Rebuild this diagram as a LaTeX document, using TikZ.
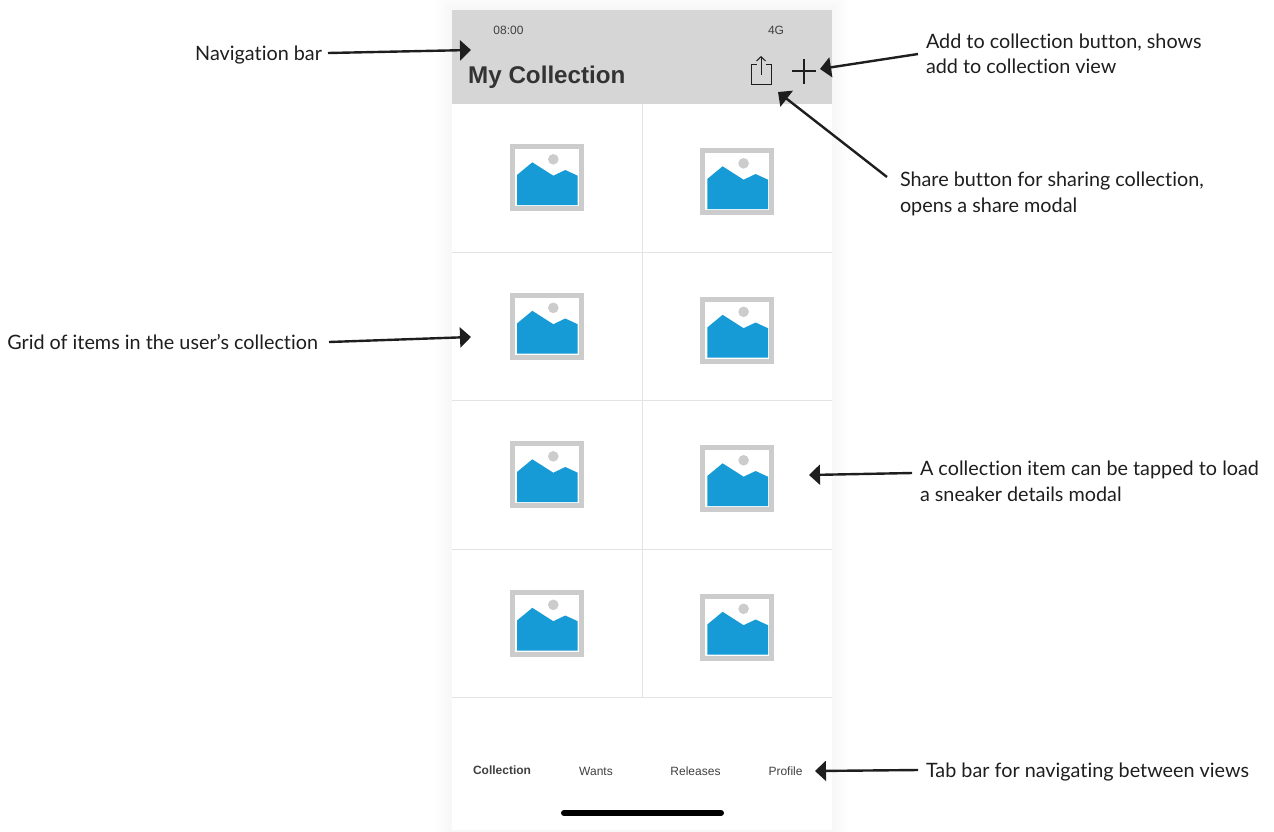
\documentclass[tikz,border=0pt]{standalone}
\usepackage{fontspec}
\setmainfont[Ligatures=NoCommon]{Lato}
\newfontfamily\uifont{Liberation Sans}
\usetikzlibrary{arrows.meta}
\definecolor{barg}{HTML}{D6D6D6}
\definecolor{gridg}{HTML}{E3E3E3}
\definecolor{frameg}{HTML}{CCCCCC}
\definecolor{sky}{HTML}{179BD7}
\definecolor{uitext}{HTML}{404040}
\definecolor{titletext}{HTML}{333333}
\definecolor{ink}{HTML}{1E1E1E}
\tikzset{
  x=1pt,y=-1pt,
  lbl/.style={font=\fontsize{19.8}{25.5}\selectfont,text=ink,align=left,inner ysep=0pt,inner xsep=0pt},
  conn/.style={draw=ink,line width=2.4pt,-{Triangle[length=11pt,width=20pt]}},
  uilbl/.style={font=\uifont\fontsize{12}{14}\selectfont,text=uitext,inner sep=0pt},
  tabb/.style={font=\uifont\bfseries\fontsize{12}{14}\selectfont,text=uitext,inner sep=0pt},
  tabn/.style={font=\uifont\fontsize{12}{14}\selectfont,text=uitext,inner sep=0pt},
  rule/.style={draw=gridg,line width=1pt},
  thumb/.pic={
    \fill[frameg] (0,0) rectangle (74,67);
    \fill[white] (5,5) rectangle (69,62);
    \fill[frameg] (43.3,15.3) circle (5.3);
    \fill[sky] (7,31) -- (22.3,18.3) -- (43.3,31.7) -- (55.3,26) -- (67.7,31.7) -- (67.7,61) -- (7,61) -- cycle;
  }
}
\begin{document}
\begin{tikzpicture}
\useasboundingbox (0,0) rectangle (1274,831);
% soft shadow round the phone
\foreach \s in {16,14,...,2}{
  \fill[black,opacity=0.004] (452-\s,10-\s) rectangle (832+\s,830+\s);
}
\fill[white] (452,10) rectangle (832,830);
% navigation bar
\fill[barg] (452,10) rectangle (832,104);
\node[uilbl,anchor=center] (clock) at (508.5,30) {08:00};
\node[uilbl,anchor=center] (net) at (776,30) {4G};
\node[anchor=west,inner sep=0pt,text=titletext,font=\uifont\bfseries\fontsize{24.2}{28}\selectfont] (title) at (468,77) {My Collection};
% share icon
\draw[ink,line width=1pt] (756.5,64) -- (751.3,64) -- (751.3,84.3) -- (771,84.3) -- (771,64) -- (765.5,64);
\draw[ink,line width=1pt] (761,75) -- (761,57);
\draw[ink,line width=1pt] (756.5,61) -- (761,56.7) -- (765.5,61);
% plus icon
\draw[ink,line width=2pt] (791.5,71) -- (816,71);
\draw[ink,line width=2pt] (803.5,59) -- (803.5,83.5);
% grid
\foreach \y in {252,400.5,549,697}{ \draw[rule] (452,\y) -- (832,\y); }
\draw[rule] (642,104) -- (642,697);
\foreach \y in {144,292.5,441,589.5}{
  \pic at (510,\y) {thumb};
  \pic at (700.3,\y+4) {thumb};
}
% tab bar
\node[tabb] (tabA) at (502,770) {Collection};
\node[tabn] (tabB) at (596,771.5) {Wants};
\node[tabn] (tabC) at (695.5,771) {Releases};
\node[tabn] (tabD) at (785.5,771) {Profile};
\draw[black,line width=6pt,line cap=round] (564,813) -- (721,813);
% annotations
\coordinate (navTip) at (471,50);
\coordinate (addTip) at (820,69);
\coordinate (shareTip) at (778,92);
\coordinate (gridTip) at (471,337);
\coordinate (itemTip) at (809,475);
\coordinate (tabTip) at (815,771);
\node[lbl,anchor=east,outer xsep=6pt] (navL) at (328,55) {Navigation bar};
\node[lbl,anchor=east,outer xsep=11pt] (gridL) at (329,342) {Grid of items in the user’s collection};
\node[lbl,anchor=west,outer xsep=8pt] (addL) at (918,54) {Add to collection button, shows\\add to collection view};
\node[lbl,anchor=west,outer xsep=13pt] (shareL) at (887,194) {Share button for sharing collection,\\opens a share modal};
\node[lbl,anchor=west,outer xsep=8pt] (itemL) at (912,481.5) {A collection item can be tapped to load\\a sneaker details modal};
\node[lbl,anchor=west,outer xsep=8pt] (tabL) at (918,772) {Tab bar for navigating between views};
\draw[conn] ([yshift=2pt]navL.east) -- (navTip);
\draw[conn] (gridL.east) -- (gridTip);
\draw[conn] (addL.west) -- (addTip);
\draw[conn] ([yshift=17pt]shareL.west) -- (shareTip);
\draw[conn] ([yshift=8.5pt]itemL.west) -- (itemTip);
\draw[conn] ([yshift=2pt]tabL.west) -- (tabTip);
\end{tikzpicture}
\end{document}
